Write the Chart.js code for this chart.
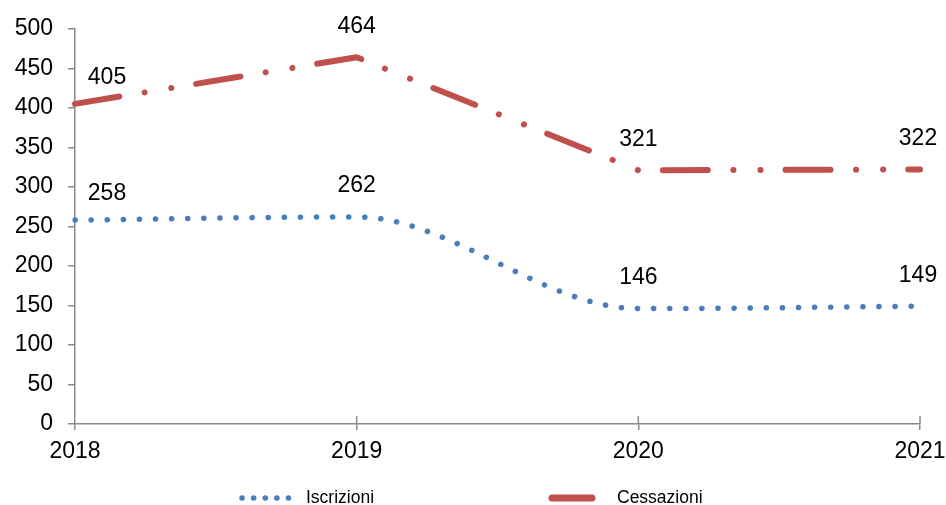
<!DOCTYPE html>
<html>
<head>
    <meta charset="UTF-8">
    <title>Iscrizioni e Cessazioni</title>
    <style>
        body {
            margin: 0;
            padding: 0;
            background: #fff;
        }
        #wrap {
            width: 946px;
            height: 505px;
        }
    </style>
</head>
<body>
    <div id="wrap"><canvas id="chart"></canvas></div>

    <script src="https://cdn.jsdelivr.net/npm/chart.js"></script>
    <script>
        const years = ['2018', '2019', '2020', '2021'];
        const iscrizioni = [258, 262, 146, 149];
        const cessazioni = [405, 464, 321, 322];
        const yTicks = { min: 0, max: 500, step: 50 };

        const FONT = "'Liberation Sans', Arial, sans-serif";
        const AXIS_GREY = '#8c8c8c';

        // etichette dei valori sopra ogni punto
        const valueLabels = {
            id: 'valueLabels',
            afterDatasetsDraw(chart) {
                const ctx = chart.ctx;
                ctx.save();
                ctx.font = '23px ' + FONT;
                ctx.fillStyle = '#000';
                ctx.textAlign = 'center';
                ctx.textBaseline = 'middle';
                chart.data.datasets.forEach((ds, di) => {
                    const meta = chart.getDatasetMeta(di);
                    meta.data.forEach((pt, i) => {
                        let dx = 0, dy = 31;
                        if (i === 0) { dx = 32; dy = 26; }
                        if (i === meta.data.length - 1) dx = -2;
                        ctx.fillText(String(ds.data[i]), pt.x + dx, pt.y - dy);
                    });
                });
                ctx.restore();
            }
        };

        // tacche dell'asse x che attraversano l'asse (parte interna)
        const crossTicks = {
            id: 'crossTicks',
            afterDraw(chart) {
                const ctx = chart.ctx;
                const xs = chart.scales.x;
                const yBottom = chart.chartArea.bottom;
                ctx.save();
                ctx.strokeStyle = AXIS_GREY;
                ctx.lineWidth = 1.5;
                xs.ticks.forEach((t, i) => {
                    const x = xs.getPixelForTick(i);
                    if (i === 0) return;
                    ctx.beginPath();
                    ctx.moveTo(x, yBottom - 8);
                    ctx.lineTo(x, yBottom);
                    ctx.stroke();
                });
                ctx.restore();
            }
        };

        // legenda disegnata a mano (linee tratteggiate come nel grafico)
        const bottomLegend = {
            id: 'bottomLegend',
            afterDraw(chart) {
                const ctx = chart.ctx;
                const y = 498;
                const items = [
                    { x0: 242, x1: 290, tx: 306, w: 5.5 },
                    { x0: 552, x1: 592, tx: 617, w: 7 }
                ];
                ctx.save();
                chart.data.datasets.forEach((ds, di) => {
                    const it = items[di];
                    ctx.beginPath();
                    ctx.strokeStyle = ds.borderColor;
                    ctx.lineWidth = it.w;
                    ctx.lineCap = 'round';
                    ctx.setLineDash(di === 0 ? [0.1, 11.5] : []);
                    ctx.moveTo(it.x0, y);
                    ctx.lineTo(it.x1, y);
                    ctx.stroke();
                    ctx.setLineDash([]);
                    ctx.font = '17.5px ' + FONT;
                    ctx.fillStyle = '#000';
                    ctx.textAlign = 'left';
                    ctx.textBaseline = 'middle';
                    ctx.fillText(ds.label, it.tx, y);
                });
                ctx.restore();
            }
        };

        const ctx = document.getElementById('chart').getContext('2d');
        new Chart(ctx, {
            type: 'line',
            data: {
                labels: years,
                datasets: [{
                    label: 'Iscrizioni',
                    data: iscrizioni,
                    borderColor: '#4a7ebb',
                    borderWidth: 5.5,
                    borderDash: [0.1, 16],
                    borderCapStyle: 'round',
                    cubicInterpolationMode: 'monotone',
                    pointRadius: 0,
                    fill: false
                }, {
                    label: 'Cessazioni',
                    data: cessazioni,
                    borderColor: '#c0504d',
                    borderWidth: 6,
                    borderDash: [45, 25.5, 0.1, 27, 0.1, 25],
                    borderCapStyle: 'round',
                    borderJoinStyle: 'round',
                    tension: 0,
                    pointRadius: 0,
                    fill: false
                }]
            },
            options: {
                responsive: true,
                maintainAspectRatio: false,
                animation: false,
                layout: {
                    padding: { top: 27, right: 0, left: 0, bottom: 41 }
                },
                plugins: {
                    legend: { display: false },
                    tooltip: { enabled: false }
                },
                scales: {
                    x: {
                        offset: false,
                        grid: {
                            drawOnChartArea: false,
                            drawTicks: true,
                            tickLength: 6,
                            color: AXIS_GREY,
                            lineWidth: 1.5
                        },
                        border: { color: AXIS_GREY, width: 1.5 },
                        ticks: {
                            color: '#000',
                            font: { family: FONT, size: 23 },
                            padding: 8,
                            maxRotation: 0
                        },
                        afterFit(scale) {
                            scale.height = 40;
                            scale.paddingRight = 26;
                        }
                    },
                    y: {
                        min: yTicks.min,
                        max: yTicks.max,
                        grid: {
                            drawOnChartArea: false,
                            drawTicks: true,
                            tickLength: 7,
                            color: AXIS_GREY,
                            lineWidth: 1.5
                        },
                        border: { color: AXIS_GREY, width: 1.5 },
                        ticks: {
                            stepSize: yTicks.step,
                            color: '#000',
                            font: { family: FONT, size: 23 },
                            padding: 15
                        },
                        afterFit(scale) { scale.width = 75; }
                    }
                }
            },
            plugins: [valueLabels, crossTicks, bottomLegend]
        });
    </script>
</body>
</html>
